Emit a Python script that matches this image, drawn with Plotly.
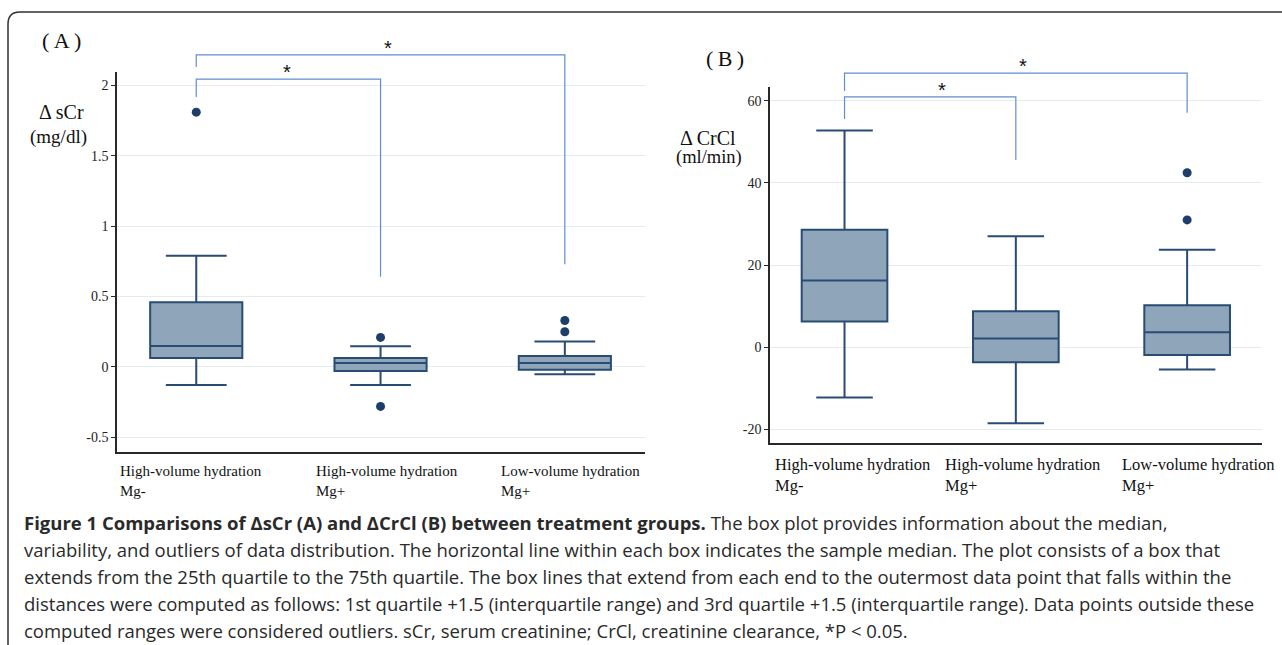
import plotly.graph_objects as go

# ---------------- data ----------------
categories = ["High-volume hydration Mg-", "High-volume hydration Mg+", "Low-volume hydration Mg+"]
label_line1_A = ["High-volume hydration", "High-volume hydration", "Low-volume hydration"]
label_line1_B = ["High-volume hydration", "High-volume hydration", "Low-volume hydration"]
label_line2 = ["Mg-", "Mg+", "Mg+"]

# Panel A: delta sCr (mg/dl)
scr_q1 = [0.064, -0.028, -0.019]
scr_median = [0.149, 0.028, 0.028]
scr_q3 = [0.460, 0.064, 0.078]
scr_lower = [-0.128, -0.128, -0.052]
scr_upper = [0.790, 0.147, 0.180]
scr_outliers = {0: [1.81], 1: [0.21, -0.28], 2: [0.33, 0.25]}
scr_ticks = [-0.5, 0, 0.5, 1, 1.5, 2]
scr_ticktext = ["-0.5", "0", "0.5", "1", "1.5", "2"]

# Panel B: delta CrCl (ml/min)
crcl_q1 = [6.2, -3.7, -1.95]
crcl_median = [16.2, 2.1, 3.6]
crcl_q3 = [28.6, 8.7, 10.2]
crcl_lower = [-12.3, -18.6, -5.5]
crcl_upper = [52.8, 27.0, 23.7]
crcl_outliers = {2: [42.5, 31.0]}
crcl_ticks = [-20, 0, 20, 40, 60]
crcl_ticktext = ["-20", "0", "20", "40", "60"]

caption_lines = [
    "<b>Figure 1 Comparisons of ΔsCr (A) and ΔCrCl (B) between treatment groups.</b> The box plot provides information about the median,",
    "variability, and outliers of data distribution. The horizontal line within each box indicates the sample median. The plot consists of a box that",
    "extends from the 25th quartile to the 75th quartile. The box lines that extend from each end to the outermost data point that falls within the",
    "distances were computed as follows: 1st quartile +1.5 (interquartile range) and 3rd quartile +1.5 (interquartile range). Data points outside these",
    "computed ranges were considered outliers. sCr, serum creatinine; CrCl, creatinine clearance, *P < 0.05.",
]

# ---------------- styles ----------------
W, H = 1282, 645
BOX_FILL = "rgb(142,165,186)"
BOX_LINE = "rgb(40,76,116)"
DOT = "rgb(28,62,105)"
BRACKET = "rgb(96,142,208)"
GRID = "rgb(227,236,240)"
AXIS = "rgb(40,40,40)"
SERIF = "Liberation Serif"
LABEL_SHIFT_A = [-5, 6, 6]
LABEL_SHIFT_B = [8, 7, 11]


def px(x):
    return x / W


def py(y):
    return 1 - y / H


domA_x = [px(117), px(645)]
domA_y = [py(452), py(72)]
rngA_x = [-0.43, 2.435]
rngA_y = [-0.604, 2.095]

domB_x = [px(770), px(1262)]
domB_y = [py(443), py(87)]
rngB_x = [-0.435, 2.437]
rngB_y = [-23.4, 63.4]


def to_paper(v, dom, rng):
    return dom[0] + (v - rng[0]) / (rng[1] - rng[0]) * (dom[1] - dom[0])


fig = go.Figure()

# box traces
fig.add_trace(go.Box(
    x=categories, q1=scr_q1, median=scr_median, q3=scr_q3,
    lowerfence=scr_lower, upperfence=scr_upper,
    width=0.5, whiskerwidth=0.66, boxpoints=False,
    fillcolor=BOX_FILL, line=dict(color=BOX_LINE, width=2),
    xaxis="x", yaxis="y", showlegend=False, hoverinfo="skip",
))
fig.add_trace(go.Box(
    x=categories, q1=crcl_q1, median=crcl_median, q3=crcl_q3,
    lowerfence=crcl_lower, upperfence=crcl_upper,
    width=0.5, whiskerwidth=0.66, boxpoints=False,
    fillcolor=BOX_FILL, line=dict(color=BOX_LINE, width=2),
    xaxis="x2", yaxis="y2", showlegend=False, hoverinfo="skip",
))

# outliers
for outl, xa, ya in [(scr_outliers, "x", "y"), (crcl_outliers, "x2", "y2")]:
    xs, ys = [], []
    for i, vals in outl.items():
        for v in vals:
            xs.append(categories[i])
            ys.append(v)
    fig.add_trace(go.Scatter(
        x=xs, y=ys, mode="markers", marker=dict(color=DOT, size=9),
        xaxis=xa, yaxis=ya, showlegend=False, hoverinfo="skip",
    ))

axis_common = dict(
    showline=True, linecolor=AXIS, linewidth=1.5, zeroline=False,
    tickfont=dict(family=SERIF, size=14, color="#222"),
)

fig.update_layout(
    width=W, height=H, margin=dict(l=0, r=0, t=0, b=0),
    paper_bgcolor="white", plot_bgcolor="white",
    xaxis=dict(domain=domA_x, range=rngA_x, type="category", showgrid=False,
               showticklabels=False, ticks="", anchor="y", **axis_common),
    yaxis=dict(domain=domA_y, range=rngA_y, tickvals=scr_ticks, ticktext=scr_ticktext,
               showgrid=True, gridcolor=GRID, gridwidth=1, ticks="outside", ticklen=4,
               tickcolor=AXIS, anchor="x", **axis_common),
    xaxis2=dict(domain=domB_x, range=rngB_x, type="category", showgrid=False,
                showticklabels=False, ticks="", anchor="y2", **axis_common),
    yaxis2=dict(domain=domB_y, range=rngB_y, tickvals=crcl_ticks, ticktext=crcl_ticktext,
                showgrid=True, gridcolor=GRID, gridwidth=1, ticks="outside", ticklen=4,
                tickcolor=AXIS, anchor="x2", **axis_common),
)

shapes = []
# outer frame (rounded top-left corner)
shapes.append(dict(
    type="path", xref="paper", yref="paper",
    path=f"M {px(8)},{py(660)} L {px(8)},{py(24)} Q {px(8)},{py(12)} {px(20)},{py(12)} L {px(1300)},{py(12)}",
    line=dict(color="rgb(50,50,50)", width=1.5),
))

# significance brackets: (x_left, x_right, top, left_bottom, right_bottom, star_x)
brackets_A = [(0, 2, 2.216, 2.13, 0.73, 1.04), (0, 1, 2.045, 1.918, 0.64, 0.49)]
brackets_B = [(0, 2, 66.8, 62.4, 57.1, 1.04), (0, 1, 61.0, 55.6, 45.6, 0.57)]

annotations = []
for brs, domx, domy, rx, ry in [(brackets_A, domA_x, domA_y, rngA_x, rngA_y),
                                (brackets_B, domB_x, domB_y, rngB_x, rngB_y)]:
    for (x0, x1, top, lb, rb, sx) in brs:
        X0 = to_paper(x0, domx, rx)
        X1 = to_paper(x1, domx, rx)
        shapes.append(dict(
            type="path", xref="paper", yref="paper",
            path=f"M {X0},{to_paper(lb, domy, ry)} L {X0},{to_paper(top, domy, ry)} "
                 f"L {X1},{to_paper(top, domy, ry)} L {X1},{to_paper(rb, domy, ry)}",
            line=dict(color=BRACKET, width=1.2),
        ))
        annotations.append(dict(
            x=to_paper(sx, domx, rx), y=to_paper(top, domy, ry), xref="paper", yref="paper",
            text="*", showarrow=False, xanchor="center", yanchor="bottom", yshift=-6,
            font=dict(family="Liberation Sans", size=20, color="#111"),
        ))

# panel letters
annotations.append(dict(x=px(61), y=py(40), xref="paper", yref="paper", text="(\u2009A\u2009)",
                        showarrow=False, xanchor="center", yanchor="middle",
                        font=dict(family=SERIF, size=22, color="#111")))
annotations.append(dict(x=px(725), y=py(59), xref="paper", yref="paper", text="(\u2009B\u2009)",
                        showarrow=False, xanchor="center", yanchor="middle",
                        font=dict(family=SERIF, size=22, color="#111")))

# y-axis titles
annotations.append(dict(x=px(61), y=py(112), xref="paper", yref="paper", text="Δ sCr",
                        showarrow=False, xanchor="center", yanchor="middle",
                        font=dict(family=SERIF, size=20, color="#111")))
annotations.append(dict(x=px(58), y=py(137), xref="paper", yref="paper", text="(mg/dl)",
                        showarrow=False, xanchor="center", yanchor="middle",
                        font=dict(family=SERIF, size=19, color="#111")))
annotations.append(dict(x=px(708), y=py(138), xref="paper", yref="paper", text="Δ CrCl",
                        showarrow=False, xanchor="center", yanchor="middle",
                        font=dict(family=SERIF, size=20, color="#111")))
annotations.append(dict(x=px(709), y=py(158), xref="paper", yref="paper", text="(ml/min)",
                        showarrow=False, xanchor="center", yanchor="middle",
                        font=dict(family=SERIF, size=18.5, color="#111")))

# category labels
for i, c in enumerate(categories):
    annotations.append(dict(
        x=c, xref="x", y=py(461), yref="paper", xshift=LABEL_SHIFT_A[i],
        text=f"{label_line1_A[i]}<br>{label_line2[i]}", align="left",
        showarrow=False, xanchor="center", yanchor="top",
        font=dict(family=SERIF, size=15, color="#111"),
    ))
    annotations.append(dict(
        x=c, xref="x2", y=py(453), yref="paper", xshift=LABEL_SHIFT_B[i],
        text=f"{label_line1_B[i]}<br>{label_line2[i]}", align="left",
        showarrow=False, xanchor="center", yanchor="top",
        font=dict(family=SERIF, size=16.5, color="#111"),
    ))

# caption
for k, line in enumerate(caption_lines):
    annotations.append(dict(
        x=px(22), y=py(522 + 27 * k), xref="paper", yref="paper", text=line,
        showarrow=False, xanchor="left", yanchor="middle", align="left",
        font=dict(family="Open Sans", size=18.5, color="#2a2a2a"),
    ))

fig.update_layout(shapes=shapes, annotations=annotations)

fig.write_html("out.html", config={"displayModeBar": False},
               post_script="document.body.style.margin='0';")
